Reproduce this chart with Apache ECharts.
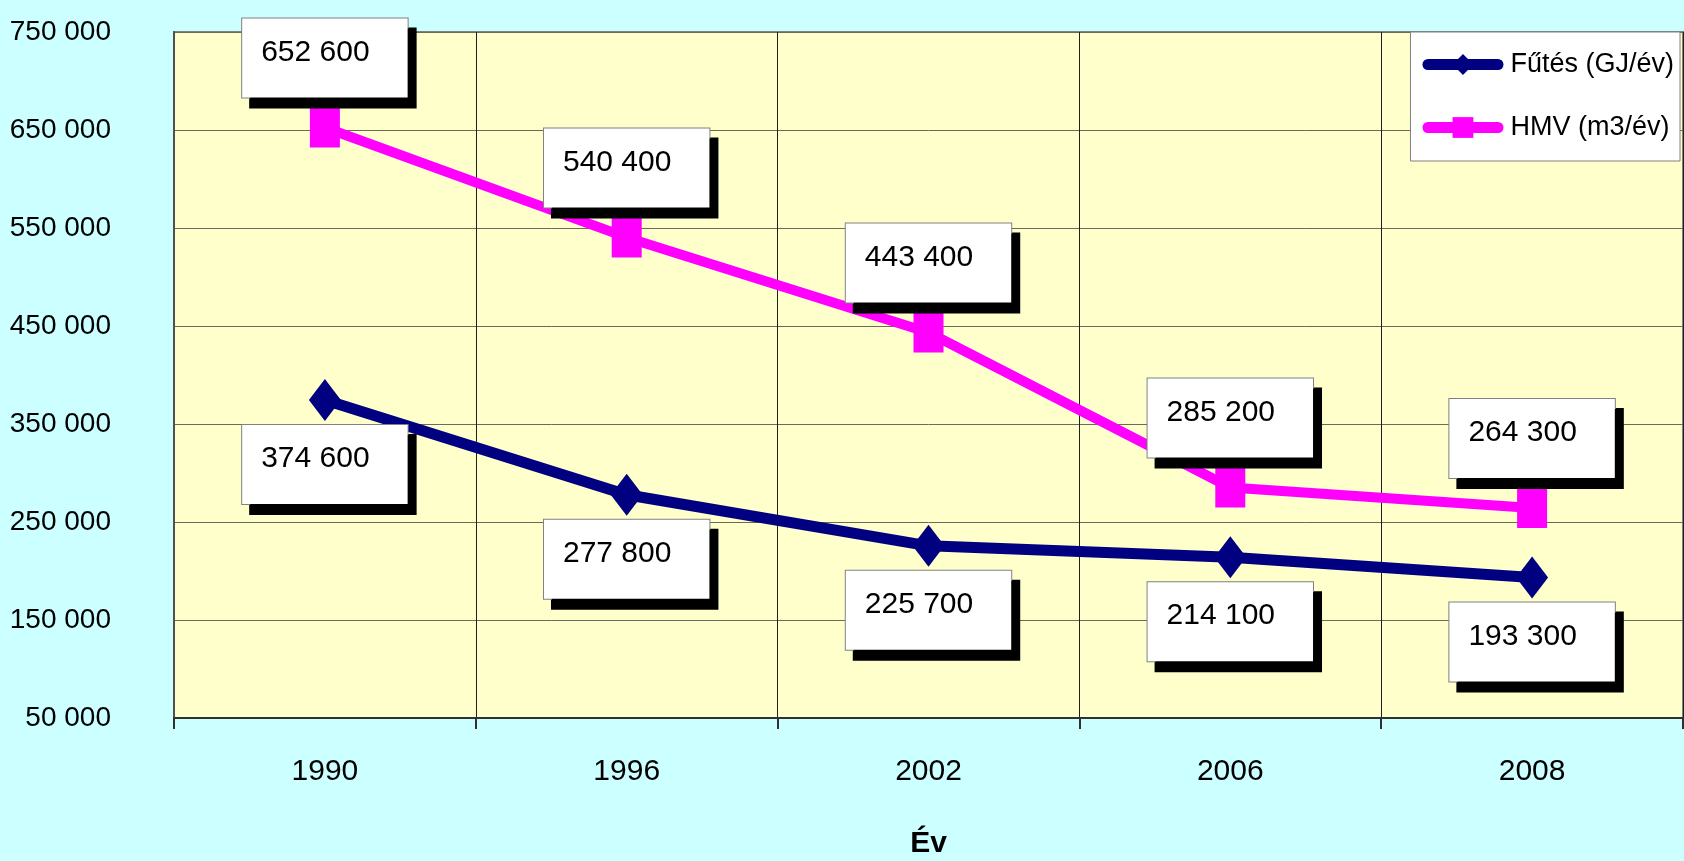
<!DOCTYPE html>
<html>
<head>
<meta charset="utf-8">
<script src="https://cdn.jsdelivr.net/npm/echarts@6/dist/echarts.min.js"></script>
<style>
  html, body { margin: 0; padding: 0; background: #CCFFFF; }
  #chart { width: 1684px; height: 861px; }
</style>
</head>
<body>
<div id="chart"></div>
<script>
var years = ["1990", "1996", "2002", "2006", "2008"];
var futes = [374600, 277800, 225700, 214100, 193300];
var hmv = [652600, 540400, 443400, 285200, 264300];
var seriesNames = ["Fűtés (GJ/év)", "HMV (m3/év)"];
var xName = "Év";

var FONT = "'Liberation Sans', Arial, sans-serif";
var FS = 30;

function fmt(v) {
  return String(v).replace(/\B(?=(\d{3})+(?!\d))/g, " ");
}

// boxed labels with a hard black shadow
function boxLabel(pos, dist) {
  return {
    show: true,
    position: pos,
    distance: dist,
    formatter: function (p) { return fmt(p.value); },
    color: "#000",
    fontSize: FS,
    fontFamily: FONT,
    lineHeight: 30,
    backgroundColor: "#fff",
    borderColor: "#808080",
    borderWidth: 1,
    padding: [19, 38, 30, 19],
    shadowColor: "#000",
    shadowBlur: 0,
    shadowOffsetX: 8,
    shadowOffsetY: 10
  };
}

var chart = echarts.init(document.getElementById("chart"));
chart.setOption({
  backgroundColor: "#CCFFFF",
  animation: false,
  grid: {
    left: 174,
    top: 32,
    right: 1,
    bottom: 143,
    outerBoundsMode: "none",
    show: true,
    backgroundColor: "#FFFFCC",
    borderColor: "#808080",
    borderWidth: 2
  },
  legend: {
    orient: "vertical",
    right: 4,
    top: 32,
    backgroundColor: "#fff",
    borderColor: "#808080",
    borderWidth: 1,
    padding: [19, 6, 20, 12],
    itemGap: 36,
    itemWidth: 70,
    itemHeight: 26,
    lineStyle: { width: 11, cap: "round" },
    formatter: function (name) { return " " + name; },
    textStyle: { fontSize: 27, fontFamily: FONT, color: "#000" },
    data: seriesNames
  },
  xAxis: {
    type: "category",
    data: years,
    boundaryGap: true,
    name: xName,
    nameLocation: "middle",
    nameGap: 111,
    nameTextStyle: { fontSize: FS, fontWeight: "bold", fontFamily: FONT, color: "#000" },
    axisLine: { lineStyle: { color: "#303030", width: 2 } },
    axisTick: { show: true, length: 11, lineStyle: { color: "#303030", width: 2 } },
    axisLabel: { margin: 39, fontSize: FS, fontFamily: FONT, color: "#000" },
    splitLine: { show: true, lineStyle: { color: "#202020", width: 1 } }
  },
  yAxis: {
    type: "value",
    min: 50000,
    max: 750000,
    interval: 50000,
    axisLine: { show: true, lineStyle: { color: "#505050", width: 2 } },
    axisTick: { show: false },
    axisLabel: {
      margin: 63,
      fontSize: 28,
      fontFamily: FONT,
      color: "#000",
      formatter: function (v) {
        return (v - 50000) % 100000 === 0 ? fmt(v) : "";
      }
    },
    splitLine: { show: true, lineStyle: { color: ["#6b6b5a", "rgba(0,0,0,0)"], width: 1 } }
  },
  series: [
    {
      name: seriesNames[0],
      type: "line",
      data: futes,
      symbol: "diamond",
      symbolSize: [32, 42],
      lineStyle: { color: "#000080", width: 11 },
      itemStyle: { color: "#000080" },
      label: boxLabel("bottom", 4),
      z: 3
    },
    {
      name: seriesNames[1],
      type: "line",
      data: hmv,
      symbol: "rect",
      symbolSize: [30, 40],
      lineStyle: { color: "#FF00FF", width: 10 },
      itemStyle: { color: "#FF00FF" },
      label: boxLabel("top", 10),
      z: 2
    }
  ]
});
</script>
</body>
</html>
